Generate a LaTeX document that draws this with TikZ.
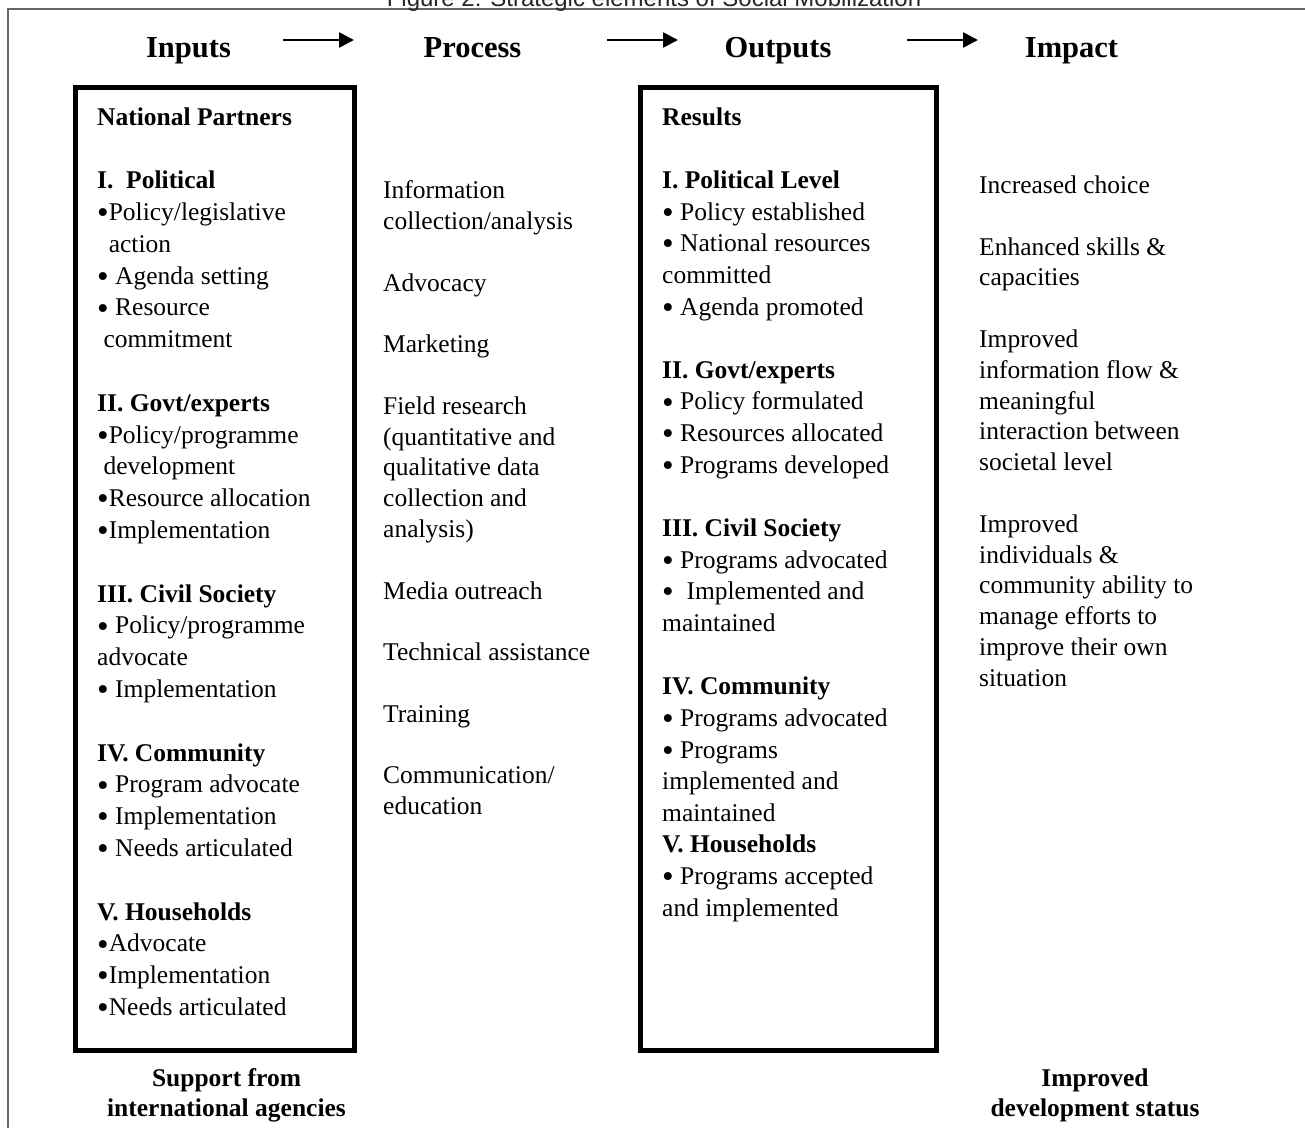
\documentclass[tikz,border=0pt]{standalone}
\usepackage{fontspec}
\setmainfont{Liberation Serif}
\newfontfamily\titlefont{Liberation Sans}
\usetikzlibrary{arrows.meta}

\newcommand{\bulletmark}{\raisebox{-0.12em}{\scalebox{1.3}{•}}}

\tikzset{
  hdr/.style={font=\fontsize{30.5}{36}\selectfont\bfseries, anchor=base, inner sep=0pt},
  col/.style={align=left, anchor=north west, inner sep=0pt},
  foot/.style={align=center, anchor=north, inner sep=0pt, font=\fontsize{25.5}{30.8}\selectfont\bfseries},
  flow/.style={line width=2.6pt, -{Triangle[length=15pt,width=15pt]}},
  boxline/.style={line width=5pt},
}

\begin{document}
\begin{tikzpicture}[x=1pt, y=-1pt]
  \useasboundingbox (0,0) rectangle (1305,1127);
  % frame and caption
  \draw[black!60, line width=1.2pt] (8,1130) -- (8,9) -- (1310,9);
  \node[anchor=base, inner sep=0pt, font=\titlefont\fontsize{24}{28}\selectfont, text=black!85] (title) at (654,6) {Figure 2: Strategic elements of Social Mobilization};
  % column heads
  \node[hdr] (inp) at (188.5,57.5) {Inputs};
  \node[hdr] (proc) at (472.5,57.5) {Process};
  \node[hdr] (outp) at (778,57.5) {Outputs};
  \node[hdr] (imp) at (1071.5,57.5) {Impact};
  \coordinate (a1s) at (283,40); \coordinate (a1e) at (354,40);
  \coordinate (a2s) at (607,40); \coordinate (a2e) at (678,40);
  \coordinate (a3s) at (907,40); \coordinate (a3e) at (978,40);
  \draw[flow] (a1s) -- (a1e);
  \draw[flow] (a2s) -- (a2e);
  \draw[flow] (a3s) -- (a3e);
  % boxes
  \draw[boxline] (75.5,87.5) rectangle (354.5,1050.5);
  \draw[boxline] (640.5,87.5) rectangle (936,1050.5);
  % inputs
  \node[col, font=\fontsize{25.5}{31.8}\selectfont] (partners) at (97,102.7) {\strut\textbf{National Partners}\\[31.8pt]
    \textbf{I.\ \ Political}\\
    \bulletmark Policy/legislative\\
    \hphantom{\bulletmark}action\\
    \bulletmark\ Agenda setting\\
    \bulletmark\ Resource\\
    \ commitment\\[31.8pt]
    \textbf{II. Govt/experts}\\
    \bulletmark Policy/programme\\
    \ development\\
    \bulletmark Resource allocation\\
    \bulletmark Implementation\\[31.8pt]
    \textbf{III. Civil Society}\\
    \bulletmark\ Policy/programme\\
    advocate\\
    \bulletmark\ Implementation\\[31.8pt]
    \textbf{IV. Community}\\
    \bulletmark\ Program advocate\\
    \bulletmark\ Implementation\\
    \bulletmark\ Needs articulated\\[31.8pt]
    \textbf{V. Households}\\
    \bulletmark Advocate\\
    \bulletmark Implementation\\
    \bulletmark Needs articulated};
  % process
  \node[col, font=\fontsize{25.5}{30.8}\selectfont] (steps) at (383,176.9) {\strut Information\\
    collection/analysis\\[30.8pt]
    Advocacy\\[30.8pt]
    Marketing\\[30.8pt]
    Field research\\
    (quantitative and\\
    qualitative data\\
    collection and\\
    analysis)\\[30.8pt]
    Media outreach\\[30.8pt]
    Technical assistance\\[30.8pt]
    Training\\[30.8pt]
    Communication/\\
    education};
  % outputs
  \node[col, font=\fontsize{25.5}{31.64}\selectfont] (results) at (662,102.85) {\strut\textbf{Results}\\[31.64pt]
    \textbf{I. Political Level}\\
    \bulletmark\ Policy established\\
    \bulletmark\ National resources\\
    committed\\
    \bulletmark\ Agenda promoted\\[31.64pt]
    \textbf{II. Govt/experts}\\
    \bulletmark\ Policy formulated\\
    \bulletmark\ Resources allocated\\
    \bulletmark\ Programs developed\\[31.64pt]
    \textbf{III. Civil Society}\\
    \bulletmark\ Programs advocated\\
    \bulletmark\ \ Implemented and\\
    maintained\\[31.64pt]
    \textbf{IV. Community}\\
    \bulletmark\ Programs advocated\\
    \bulletmark\ Programs\\
    implemented and\\
    maintained\\
    \textbf{V. Households}\\
    \bulletmark\ Programs accepted\\
    and implemented};
  % impact
  \node[col, font=\fontsize{25.5}{30.8}\selectfont] (effects) at (979,171.7) {\strut Increased choice\\[30.8pt]
    Enhanced skills \&\\
    capacities\\[30.8pt]
    Improved\\
    information flow \&\\
    meaningful\\
    interaction between\\
    societal level\\[30.8pt]
    Improved\\
    individuals \&\\
    community ability to\\
    manage efforts to\\
    improve their own\\
    situation};
  % footers
  \node[foot] (support) at (226.5,1064.4) {\strut Support from\\international agencies};
  \node[foot] (status) at (1095,1064.4) {\strut Improved\\development status};
\end{tikzpicture}
\end{document}
